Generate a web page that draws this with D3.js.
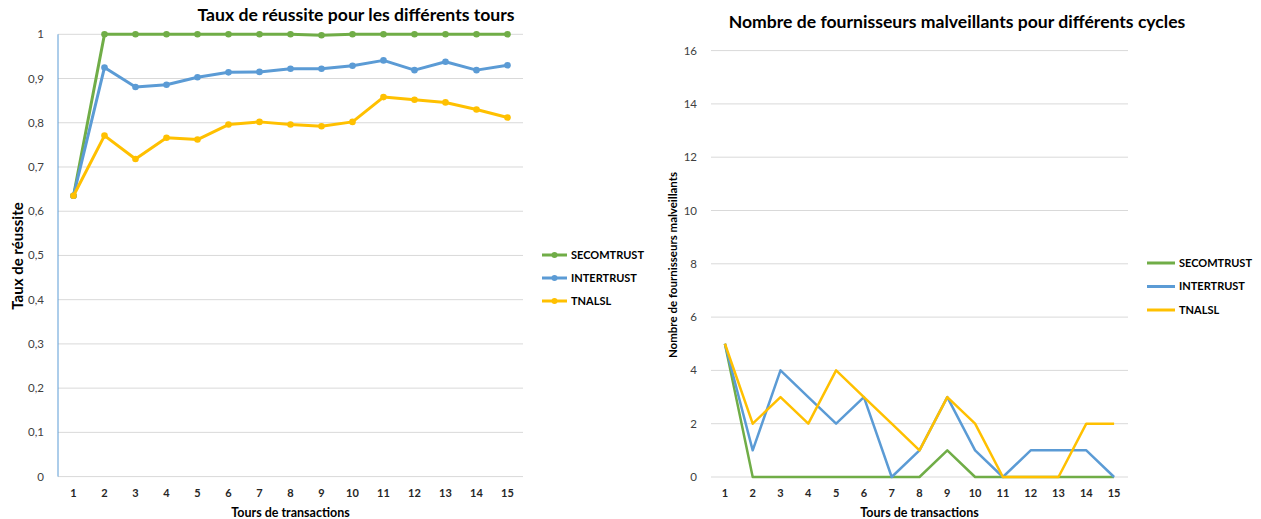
<!DOCTYPE html>
<html>
<head>
<meta charset="utf-8">
<script src="https://cdn.jsdelivr.net/npm/d3@7"></script>
<style>
  body { margin: 0; background: #fff; }
  svg { font-family: Lato, "Open Sans", sans-serif; }
</style>
</head>
<body>
<svg id="chart" width="1261" height="519"></svg>
<script>
const rounds = d3.range(1, 16);
const seriesNames = ["SECOMTRUST", "INTERTRUST", "TNALSL"];
const colors = ["#70ad47", "#5b9bd5", "#ffc000"];

// taux de reussite
const rateSecom = [0.635, 1, 1, 1, 1, 1, 1, 1, 0.998, 1, 1, 1, 1, 1, 1];
const rateInter = [0.635, 0.925, 0.881, 0.886, 0.903, 0.914, 0.915, 0.922, 0.922, 0.929, 0.941, 0.919, 0.938, 0.919, 0.930];
const rateTnalsl = [0.635, 0.771, 0.718, 0.766, 0.762, 0.796, 0.802, 0.796, 0.792, 0.802, 0.858, 0.852, 0.846, 0.830, 0.812];
const rateTicks = d3.range(0, 11).map(d => d / 10);

// fournisseurs malveillants
const malSecom = [5, 0, 0, 0, 0, 0, 0, 0, 1, 0, 0, 0, 0, 0, 0];
const malInter = [5, 1, 4, 3, 2, 3, 0, 1, 3, 1, 0, 1, 1, 1, 0];
const malTnalsl = [5, 2, 3, 2, 4, 3, 2, 1, 3, 2, 0, 0, 0, 2, 2];
const malTicks = d3.range(0, 17, 2);

const svg = d3.select("#chart");

function drawChart(opts) {
  const g = svg.append("g");
  const x = d3.scalePoint().domain(rounds).range([opts.left, opts.right]).padding(0.5);
  const y = d3.scaleLinear().domain(opts.domain).range([opts.bottom, opts.top]);

  // gridlines
  g.selectAll(".grid").data(opts.ticks).enter().append("line")
    .attr("x1", opts.left).attr("x2", opts.right)
    .attr("y1", d => y(d)).attr("y2", d => y(d))
    .attr("stroke", "#d9d9d9").attr("stroke-width", 1);

  if (opts.axisLine) {
    g.append("line")
      .attr("x1", opts.left).attr("x2", opts.left)
      .attr("y1", y(opts.domain[1])).attr("y2", y(0))
      .attr("stroke", "#5b9bd5").attr("stroke-width", 1);
  }

  // y tick labels
  g.selectAll(".ytick").data(opts.ticks).enter().append("text")
    .attr("x", opts.left - 14).attr("y", d => y(d))
    .attr("dy", "0.35em").attr("text-anchor", "end")
    .style("font-size", "11.5px").style("fill", "#404040")
    .text(opts.fmt);

  // x tick labels
  g.selectAll(".xtick").data(rounds).enter().append("text")
    .attr("x", d => x(d)).attr("y", opts.bottom + 20)
    .attr("text-anchor", "middle")
    .style("font-size", "11px").style("font-weight", "bold").style("fill", "#262626")
    .text(d => d);

  // titles
  g.append("text")
    .attr("x", opts.titleX).attr("y", opts.titleY)
    .attr("text-anchor", "middle")
    .style("font-size", "17.6px").style("font-weight", "bold").style("fill", "#000")
    .text(opts.title);

  g.append("text")
    .attr("x", (opts.left + opts.right) / 2).attr("y", opts.bottom + 40)
    .attr("text-anchor", "middle")
    .style("font-size", "12.5px").style("font-weight", "bold").style("fill", "#000")
    .text("Tours de transactions");

  g.append("text")
    .attr("transform", "translate(" + opts.yTitleX + "," + opts.yTitleY + ") rotate(-90)")
    .attr("text-anchor", "middle")
    .style("font-size", opts.yTitleSize).style("font-weight", "bold").style("fill", "#000")
    .text(opts.yTitle);

  // lines
  const line = d3.line()
    .x((d, i) => x(rounds[i]))
    .y(d => y(d));

  opts.series.forEach((s, k) => {
    g.append("path")
      .datum(s)
      .attr("d", line)
      .attr("fill", "none")
      .attr("stroke", colors[k])
      .attr("stroke-width", opts.strokeW)
      .attr("stroke-linejoin", "round");
    if (opts.markers) {
      g.selectAll(".pt" + k).data(s).enter().append("circle")
        .attr("cx", (d, i) => x(rounds[i]))
        .attr("cy", d => y(d))
        .attr("r", 3.3)
        .attr("fill", colors[k]);
    }
  });

  // legend
  seriesNames.forEach((name, k) => {
    const ly = opts.legendY + k * opts.legendGap;
    g.append("line")
      .attr("x1", opts.legendX).attr("x2", opts.legendX + opts.legendLen)
      .attr("y1", ly).attr("y2", ly)
      .attr("stroke", colors[k]).attr("stroke-width", 3);
    if (opts.markers) {
      g.append("circle")
        .attr("cx", opts.legendX + opts.legendLen / 2).attr("cy", ly)
        .attr("r", 3).attr("fill", colors[k]);
    }
    g.append("text")
      .attr("x", opts.legendX + opts.legendLen + 4).attr("y", ly)
      .attr("dy", "0.35em")
      .style("font-size", "11px").style("font-weight", "bold").style("fill", "#000")
      .text(name);
  });
}

drawChart({
  left: 58, right: 523, top: 34.3, bottom: 476.6,
  domain: [0, 1], ticks: rateTicks,
  fmt: d => String(d).replace(".", ","),
  axisLine: true, markers: true, strokeW: 3,
  series: [rateSecom, rateInter, rateTnalsl],
  title: "Taux de réussite pour les différents tours", titleX: 356, titleY: 21,
  yTitle: "Taux de réussite", yTitleX: 23, yTitleY: 256, yTitleSize: "15px",
  legendX: 542, legendLen: 25, legendY: 255, legendGap: 23
});

drawChart({
  left: 711, right: 1128, top: 50.6, bottom: 477,
  domain: [0, 16], ticks: malTicks,
  fmt: d => d,
  axisLine: false, markers: false, strokeW: 2.5,
  series: [malSecom, malInter, malTnalsl],
  title: "Nombre de fournisseurs malveillants pour différents cycles", titleX: 957, titleY: 28,
  yTitle: "Nombre de fournisseurs malveillants", yTitleX: 677, yTitleY: 265, yTitleSize: "11.5px",
  legendX: 1147, legendLen: 28, legendY: 263, legendGap: 23.5
});
</script>
</body>
</html>
